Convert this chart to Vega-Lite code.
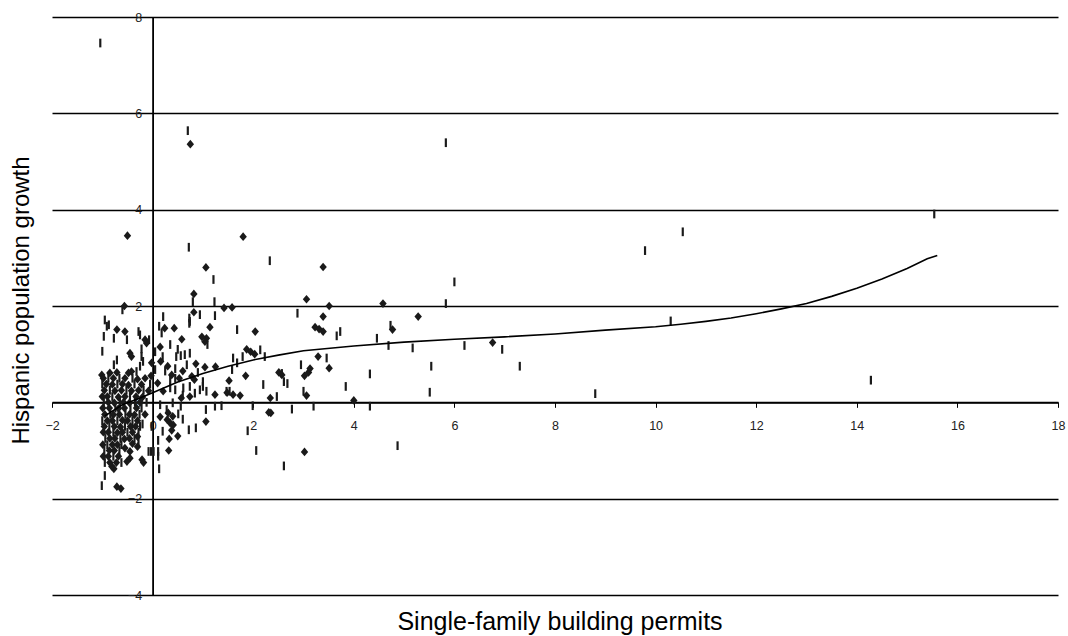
{
  "$schema": "https://vega.github.io/schema/vega-lite/v6.json",
  "width": 1006,
  "height": 578,
  "autosize": {"type": "none"},
  "padding": {"left": 52, "top": 17, "right": 10, "bottom": 41},
  "background": "white",
  "config": {"view": {"stroke": null}, "font": "Liberation Sans"},
  "datasets": {
    "pts": [
      {"x":-1.04,"y":7.46,"s":"t"},{"x":0.70,"y":5.64,"s":"t"},{"x":0.75,"y":5.36,"s":"d"},{"x":5.83,"y":5.39,"s":"t"},
      {"x":15.54,"y":3.91,"s":"t"},{"x":10.54,"y":3.54,"s":"t"},{"x":9.79,"y":3.15,"s":"t"},{"x":-0.5,"y":3.46,"s":"d"},
      {"x":1.8,"y":3.44,"s":"d"},{"x":0.72,"y":3.22,"s":"t"},{"x":2.33,"y":2.94,"s":"t"},{"x":1.06,"y":2.8,"s":"d"},
      {"x":1.21,"y":2.55,"s":"t"},{"x":3.39,"y":2.81,"s":"d"},{"x":6.0,"y":2.5,"s":"t"},{"x":5.83,"y":2.05,"s":"t"},
      {"x":0.82,"y":2.25,"s":"d"},{"x":0.8,"y":2.09,"s":"t"},{"x":1.23,"y":2.09,"s":"t"},{"x":4.58,"y":2.05,"s":"d"},
      {"x":3.06,"y":2.14,"s":"d"},{"x":3.51,"y":2.0,"s":"d"},{"x":5.28,"y":1.78,"s":"d"},{"x":2.88,"y":1.85,"s":"t"},
      {"x":3.39,"y":1.78,"s":"d"},{"x":3.23,"y":1.56,"s":"d"},{"x":3.31,"y":1.52,"s":"d"},{"x":3.39,"y":1.47,"s":"d"},
      {"x":3.66,"y":1.38,"s":"t"},{"x":3.73,"y":1.47,"s":"t"},{"x":4.77,"y":1.51,"s":"d"},{"x":4.73,"y":1.6,"s":"t"},
      {"x":4.46,"y":1.33,"s":"t"},{"x":4.69,"y":1.18,"s":"t"},{"x":5.17,"y":1.13,"s":"t"},{"x":6.2,"y":1.18,"s":"t"},
      {"x":6.76,"y":1.24,"s":"d"},{"x":6.95,"y":1.1,"s":"t"},{"x":7.3,"y":0.75,"s":"t"},{"x":8.8,"y":0.18,"s":"t"},
      {"x":10.3,"y":1.69,"s":"t"},{"x":14.28,"y":0.46,"s":"t"},{"x":5.54,"y":0.75,"s":"t"},{"x":5.51,"y":0.21,"s":"t"},
      {"x":4.32,"y":0.59,"s":"t"},{"x":3.84,"y":0.33,"s":"t"},{"x":4.0,"y":0.04,"s":"d"},{"x":4.32,"y":-0.08,"s":"t"},
      {"x":4.87,"y":-0.9,"s":"t"},{"x":3.02,"y":-1.03,"s":"d"},{"x":2.06,"y":-1.0,"s":"t"},{"x":2.61,"y":-1.32,"s":"t"},
      {"x":1.89,"y":-0.59,"s":"t"},{"x":2.35,"y":-0.22,"s":"d"},{"x":1.06,"y":-0.4,"s":"d"},{"x":3.2,"y":-0.08,"s":"t"},
      {"x":2.77,"y":-0.14,"s":"t"},{"x":1.99,"y":-0.07,"s":"t"},{"x":1.37,"y":-0.07,"s":"t"},{"x":1.24,"y":-0.08,"s":"t"},
      {"x":1.06,"y":-0.15,"s":"t"},{"x":1.24,"y":0.16,"s":"d"},{"x":1.6,"y":0.16,"s":"d"},{"x":1.74,"y":0.14,"s":"d"},
      {"x":2.34,"y":0.09,"s":"d"},{"x":2.47,"y":0.12,"s":"t"},{"x":1.47,"y":0.23,"s":"t"},{"x":1.07,"y":0.23,"s":"t"},
      {"x":3.06,"y":0.14,"s":"d"},{"x":3.0,"y":0.23,"s":"t"},{"x":3.02,"y":0.55,"s":"d"},{"x":3.1,"y":0.62,"s":"d"},
      {"x":3.13,"y":0.7,"s":"d"},{"x":2.95,"y":0.78,"s":"t"},{"x":2.51,"y":0.62,"s":"d"},{"x":2.57,"y":0.57,"s":"d"},
      {"x":2.61,"y":0.43,"s":"t"},{"x":2.68,"y":0.39,"s":"t"},{"x":2.2,"y":0.37,"s":"t"},{"x":1.85,"y":0.55,"s":"d"},
      {"x":1.52,"y":0.45,"s":"d"},{"x":1.58,"y":0.68,"s":"t"},{"x":1.04,"y":0.73,"s":"d"},{"x":1.25,"y":0.74,"s":"d"},
      {"x":3.29,"y":0.95,"s":"d"},{"x":3.51,"y":0.71,"s":"d"},{"x":3.46,"y":0.92,"s":"t"},{"x":1.87,"y":1.1,"s":"d"},
      {"x":1.95,"y":1.05,"s":"d"},{"x":2.03,"y":1.0,"s":"d"},{"x":2.14,"y":1.09,"s":"t"},{"x":2.23,"y":0.95,"s":"t"},
      {"x":1.79,"y":0.95,"s":"t"},{"x":1.6,"y":0.92,"s":"t"},{"x":1.14,"y":1.56,"s":"d"},{"x":1.68,"y":1.51,"s":"t"},
      {"x":2.04,"y":1.47,"s":"d"},{"x":1.24,"y":1.8,"s":"t"},{"x":1.42,"y":1.96,"s":"d"},{"x":1.58,"y":1.97,"s":"d"},
      {"x":1.07,"y":1.33,"s":"d"},{"x":0.98,"y":1.36,"s":"d"},{"x":1.04,"y":1.26,"s":"d"},{"x":1.09,"y":1.2,"s":"t"},
      {"x":1.0,"y":0.43,"s":"t"},{"x":1.0,"y":0.33,"s":"t"},{"x":-0.56,"y":2.0,"s":"d"},{"x":-0.6,"y":1.92,"s":"t"},
      {"x":0.82,"y":1.87,"s":"d"},{"x":0.74,"y":1.68,"s":"t"},{"x":0.94,"y":1.82,"s":"t"},{"x":0.21,"y":1.78,"s":"t"},
      {"x":-0.95,"y":1.71,"s":"t"},{"x":-0.91,"y":1.58,"s":"t"},{"x":-0.87,"y":1.61,"s":"t"},{"x":-0.97,"y":1.37,"s":"t"},
      {"x":-1.0,"y":1.06,"s":"t"},{"x":-0.71,"y":1.51,"s":"d"},{"x":-0.55,"y":1.47,"s":"d"},{"x":-0.77,"y":1.33,"s":"t"},
      {"x":-0.51,"y":1.3,"s":"t"},{"x":-0.28,"y":1.47,"s":"t"},{"x":-0.25,"y":1.4,"s":"t"},{"x":-0.15,"y":1.3,"s":"d"},
      {"x":-0.12,"y":1.23,"s":"d"},{"x":-0.07,"y":1.3,"s":"t"},{"x":-0.22,"y":1.11,"s":"t"},{"x":0.13,"y":1.58,"s":"t"},
      {"x":0.18,"y":1.44,"s":"t"},{"x":0.24,"y":1.54,"s":"d"},{"x":0.43,"y":1.54,"s":"d"},{"x":0.58,"y":1.31,"s":"d"},
      {"x":0.73,"y":1.75,"s":"t"},{"x":0.73,"y":1.64,"s":"t"},{"x":-0.45,"y":1.02,"s":"d"},{"x":-0.42,"y":0.95,"s":"d"},
      {"x":-0.71,"y":0.88,"s":"t"},{"x":-0.77,"y":0.78,"s":"t"},{"x":-0.22,"y":0.95,"s":"t"},{"x":-0.19,"y":0.85,"s":"t"},
      {"x":-0.02,"y":0.82,"s":"d"},{"x":0.16,"y":0.85,"s":"d"},{"x":0.47,"y":0.95,"s":"t"},{"x":0.56,"y":0.97,"s":"t"},
      {"x":0.64,"y":0.99,"s":"t"},{"x":0.74,"y":1.02,"s":"t"},{"x":0.86,"y":0.8,"s":"d"},{"x":1.68,"y":0.82,"s":"t"},
      {"x":2.57,"y":0.6,"s":"t"},{"x":0.38,"y":0.57,"s":"d"},{"x":0.53,"y":0.5,"s":"d"},{"x":0.35,"y":0.47,"s":"t"},
      {"x":0.45,"y":0.5,"s":"t"},{"x":-0.03,"y":0.55,"s":"d"},{"x":-1.01,"y":0.57,"s":"d"},{"x":-0.85,"y":0.61,"s":"d"},
      {"x":-0.71,"y":0.62,"s":"d"},{"x":-0.48,"y":0.61,"s":"d"},{"x":-0.42,"y":0.64,"s":"d"},{"x":-0.32,"y":0.64,"s":"t"},
      {"x":-0.25,"y":0.75,"s":"t"},{"x":1.48,"y":0.2,"s":"d"},{"x":1.53,"y":0.23,"s":"t"},{"x":0.83,"y":0.47,"s":"d"},
      {"x":0.78,"y":0.54,"s":"d"},
      {"x":0.25,"y":0.65,"s":"t"},{"x":0.3,"y":0.75,"s":"d"},{"x":0.45,"y":0.7,"s":"t"},{"x":0.6,"y":0.65,"s":"d"},
      {"x":0.68,"y":0.78,"s":"t"},{"x":0.9,"y":0.62,"s":"t"},{"x":0.2,"y":0.95,"s":"t"},{"x":0.05,"y":0.68,"s":"t"},
      {"x":0.1,"y":0.4,"s":"d"},{"x":0.6,"y":0.15,"s":"t"},{"x":0.05,"y":1.05,"s":"t"},{"x":0.15,"y":1.15,"s":"d"},
      {"x":0.35,"y":1.2,"s":"t"},{"x":0.5,"y":1.1,"s":"t"},{"x":0.2,"y":-0.6,"s":"t"},{"x":0.5,"y":-0.7,"s":"d"},
      {"x":0.6,"y":-0.35,"s":"t"},{"x":0.15,"y":-0.3,"s":"d"},
      {"x":-0.71,"y":-1.75,"s":"d"},{"x":-0.63,"y":-1.79,"s":"d"},{"x":-1.01,"y":-1.73,"s":"t"},{"x":-0.95,"y":-1.52,"s":"t"},
      {"x":0.13,"y":-1.38,"s":"t"},{"x":-0.77,"y":-1.38,"s":"d"},{"x":-0.81,"y":-1.33,"s":"d"},{"x":-0.18,"y":-1.25,"s":"d"},
      {"x":-0.21,"y":-1.19,"s":"d"},{"x":-0.03,"y":-1.02,"s":"t"},{"x":0.02,"y":-1.02,"s":"t"},{"x":-0.08,"y":-1.02,"s":"t"},
      {"x":0.11,"y":-1.02,"s":"t"},{"x":0.11,"y":-1.12,"s":"t"},{"x":0.32,"y":-1.0,"s":"d"},{"x":0.33,"y":-0.76,"s":"d"},
      {"x":0.11,"y":-0.79,"s":"t"},{"x":-0.3,"y":-0.92,"s":"d"},{"x":-0.45,"y":-1.02,"s":"d"},{"x":-0.55,"y":-0.95,"s":"d"},
      {"x":-0.51,"y":-1.23,"s":"d"},{"x":-0.45,"y":-1.16,"s":"d"},{"x":-0.02,"y":-0.5,"s":"t"},{"x":0.72,"y":-0.57,"s":"t"},
      {"x":0.86,"y":-0.53,"s":"t"},{"x":0.15,"y":-0.05,"s":"t"},{"x":0.28,"y":-0.15,"s":"t"},{"x":0.31,"y":-0.22,"s":"d"},
      {"x":0.40,"y":-0.29,"s":"d"},{"x":0.35,"y":-0.43,"s":"d"},{"x":0.41,"y":-0.47,"s":"d"},{"x":0.38,"y":-0.58,"s":"d"},
      {"x":0.29,"y":-0.36,"s":"d"},{"x":0.51,"y":-0.24,"s":"t"},{"x":0.56,"y":-0.08,"s":"t"},{"x":0.40,"y":-0.01,"s":"t"},
      {"x":0.57,"y":0.09,"s":"d"},{"x":0.74,"y":0.12,"s":"d"},{"x":0.21,"y":0.23,"s":"d"},{"x":0.35,"y":0.3,"s":"t"},
      {"x":0.45,"y":0.26,"s":"t"},{"x":0.61,"y":0.3,"s":"t"},{"x":0.74,"y":0.33,"s":"t"},{"x":0.84,"y":0.19,"s":"t"},
      {"x":0.94,"y":0.26,"s":"t"},{"x":2.31,"y":-0.21,"s":"d"},{"x":-0.3,"y":-0.71,"s":"d"},{"x":-0.28,"y":-0.82,"s":"t"},
      {"x":-0.25,"y":-0.5,"s":"t"},{"x":-0.2,"y":-0.45,"s":"t"},
      {"x":-0.98,"y":0.5,"s":"d"},{"x":-0.88,"y":0.5,"s":"t"},{"x":-0.78,"y":0.5,"s":"d"},{"x":-0.66,"y":0.5,"s":"t"},
      {"x":-0.55,"y":0.5,"s":"d"},{"x":-0.4,"y":0.5,"s":"t"},{"x":-0.3,"y":0.48,"s":"d"},{"x":-0.15,"y":0.5,"s":"d"},
      {"x":-1.0,"y":0.38,"s":"t"},{"x":-0.92,"y":0.38,"s":"d"},{"x":-0.8,"y":0.37,"s":"d"},{"x":-0.7,"y":0.38,"s":"t"},
      {"x":-0.6,"y":0.38,"s":"d"},{"x":-0.48,"y":0.36,"s":"d"},{"x":-0.36,"y":0.38,"s":"t"},{"x":-0.22,"y":0.37,"s":"d"},
      {"x":-0.05,"y":0.38,"s":"t"},{"x":-0.96,"y":0.25,"s":"d"},{"x":-0.85,"y":0.25,"s":"t"},{"x":-0.75,"y":0.24,"s":"d"},
      {"x":-0.62,"y":0.25,"s":"d"},{"x":-0.52,"y":0.25,"s":"t"},{"x":-0.42,"y":0.24,"s":"d"},{"x":-0.28,"y":0.25,"s":"d"},
      {"x":-0.18,"y":0.25,"s":"t"},{"x":-0.08,"y":0.24,"s":"d"},{"x":-1.0,"y":0.12,"s":"d"},{"x":-0.9,"y":0.12,"s":"d"},
      {"x":-0.8,"y":0.12,"s":"t"},{"x":-0.68,"y":0.11,"s":"d"},{"x":-0.55,"y":0.12,"s":"d"},{"x":-0.45,"y":0.12,"s":"t"},
      {"x":-0.33,"y":0.12,"s":"d"},{"x":-0.2,"y":0.11,"s":"d"},{"x":-0.97,"y":0.0,"s":"t"},{"x":-0.88,"y":0.0,"s":"d"},
      {"x":-0.76,"y":-0.01,"s":"d"},{"x":-0.65,"y":0.0,"s":"t"},{"x":-0.58,"y":0.0,"s":"d"},{"x":-0.46,"y":-0.01,"s":"d"},
      {"x":-0.35,"y":0.0,"s":"t"},{"x":-0.25,"y":0.0,"s":"d"},{"x":-0.12,"y":0.0,"s":"t"},{"x":-0.99,"y":-0.12,"s":"d"},
      {"x":-0.86,"y":-0.12,"s":"d"},{"x":-0.74,"y":-0.12,"s":"t"},{"x":-0.68,"y":-0.13,"s":"d"},{"x":-0.56,"y":-0.12,"s":"d"},
      {"x":-0.44,"y":-0.12,"s":"t"},{"x":-0.32,"y":-0.12,"s":"d"},{"x":-0.22,"y":-0.12,"s":"t"},{"x":-0.95,"y":-0.25,"s":"d"},
      {"x":-0.84,"y":-0.25,"s":"t"},{"x":-0.78,"y":-0.26,"s":"d"},{"x":-0.66,"y":-0.25,"s":"d"},{"x":-0.54,"y":-0.25,"s":"t"},
      {"x":-0.46,"y":-0.25,"s":"d"},{"x":-0.36,"y":-0.26,"s":"d"},{"x":-0.26,"y":-0.25,"s":"t"},{"x":-0.15,"y":-0.25,"s":"d"},
      {"x":-1.0,"y":-0.38,"s":"t"},{"x":-0.9,"y":-0.38,"s":"d"},{"x":-0.8,"y":-0.38,"s":"d"},{"x":-0.7,"y":-0.38,"s":"t"},
      {"x":-0.6,"y":-0.37,"s":"d"},{"x":-0.5,"y":-0.38,"s":"d"},{"x":-0.4,"y":-0.38,"s":"t"},{"x":-0.3,"y":-0.38,"s":"d"},
      {"x":-0.96,"y":-0.5,"s":"d"},{"x":-0.86,"y":-0.5,"s":"t"},{"x":-0.76,"y":-0.5,"s":"d"},{"x":-0.64,"y":-0.51,"s":"d"},
      {"x":-0.55,"y":-0.5,"s":"t"},{"x":-0.44,"y":-0.5,"s":"d"},{"x":-0.34,"y":-0.5,"s":"d"},{"x":-0.98,"y":-0.62,"s":"d"},
      {"x":-0.88,"y":-0.62,"s":"d"},{"x":-0.78,"y":-0.62,"s":"t"},{"x":-0.7,"y":-0.63,"s":"d"},{"x":-0.6,"y":-0.62,"s":"d"},
      {"x":-0.5,"y":-0.62,"s":"t"},{"x":-0.4,"y":-0.62,"s":"d"},{"x":-0.28,"y":-0.62,"s":"t"},{"x":-0.94,"y":-0.75,"s":"t"},
      {"x":-0.85,"y":-0.75,"s":"d"},{"x":-0.75,"y":-0.75,"s":"d"},{"x":-0.64,"y":-0.75,"s":"t"},{"x":-0.56,"y":-0.76,"s":"d"},
      {"x":-0.46,"y":-0.75,"s":"d"},{"x":-0.36,"y":-0.75,"s":"t"},{"x":-0.99,"y":-0.88,"s":"d"},{"x":-0.9,"y":-0.88,"s":"t"},
      {"x":-0.8,"y":-0.88,"s":"d"},{"x":-0.7,"y":-0.88,"s":"d"},{"x":-0.62,"y":-0.88,"s":"t"},{"x":-0.4,"y":-0.86,"s":"d"},
      {"x":-0.96,"y":-1.0,"s":"t"},{"x":-0.86,"y":-1.0,"s":"d"},{"x":-0.76,"y":-1.0,"s":"d"},{"x":-0.66,"y":-1.0,"s":"t"},
      {"x":-0.98,"y":-1.12,"s":"d"},{"x":-0.88,"y":-1.12,"s":"d"},{"x":-0.78,"y":-1.12,"s":"t"},{"x":-0.68,"y":-1.12,"s":"d"},
      {"x":-0.95,"y":-1.25,"s":"t"},{"x":-0.85,"y":-1.25,"s":"d"},{"x":-0.72,"y":-1.25,"s":"d"},{"x":-0.62,"y":-1.25,"s":"t"}
    ],
    "fit": [
      {"x":-0.95,"y":-0.28},{"x":-0.6,"y":-0.05},{"x":-0.3,"y":0.07},{"x":0.0,"y":0.2},{"x":0.5,"y":0.42},
      {"x":1.0,"y":0.6},{"x":1.5,"y":0.75},{"x":2.0,"y":0.88},{"x":2.5,"y":0.98},{"x":3.0,"y":1.07},
      {"x":4.0,"y":1.17},{"x":5.0,"y":1.25},{"x":6.0,"y":1.31},{"x":7.0,"y":1.36},{"x":8.0,"y":1.42},
      {"x":9.0,"y":1.5},{"x":10.0,"y":1.57},{"x":10.5,"y":1.62},{"x":11.0,"y":1.68},{"x":11.5,"y":1.75},
      {"x":12.0,"y":1.84},{"x":12.5,"y":1.94},{"x":13.0,"y":2.05},{"x":13.5,"y":2.2},{"x":14.0,"y":2.37},
      {"x":14.5,"y":2.56},{"x":15.0,"y":2.78},{"x":15.4,"y":2.98},{"x":15.6,"y":3.05}
    ]
  },
  "layer": [
    {
      "data": {"name": "pts"},
      "mark": {"type": "point", "filled": true, "size": 76, "color": "#1a1a1a", "opacity": 1},
      "encoding": {
        "x": {
          "field": "x", "type": "quantitative",
          "scale": {"domain": [-2, 18], "nice": false, "zero": false},
          "axis": {
            "title": "Single-family building permits",
            "values": [-2, 0, 2, 4, 6, 8, 10, 12, 14, 16, 18],
            "offset": -192.67,
            "grid": false,
            "domainColor": "#000", "domainWidth": 1.8,
            "tickColor": "#000", "tickSize": 5, "tickWidth": 1,
            "labelFontSize": 12.5, "labelColor": "#222", "labelPadding": 12, "labelFlush": false,
            "labelFont": "Liberation Sans",
            "titleFont": "Liberation Sans", "titleFontSize": 25, "titleFontWeight": "normal", "titleColor": "#000",
            "titleX": 507.5, "titleY": 226.7, "titleBaseline": "alphabetic"
          }
        },
        "y": {
          "field": "y", "type": "quantitative",
          "scale": {"domain": [-4, 8], "nice": false, "zero": false},
          "axis": {
            "title": "Hispanic population growth",
            "values": [-4, -2, 0, 2, 4, 6, 8],
            "offset": -100.6,
            "grid": true, "gridColor": "#000", "gridWidth": 1.6, "gridOpacity": 1,
            "domainColor": "#000", "domainWidth": 1.8,
            "ticks": false,
            "labelFontSize": 12.5, "labelColor": "#222", "labelPadding": 11, "labelFlush": false,
            "labelFont": "Liberation Sans",
            "titleFont": "Liberation Sans", "titleFontSize": 24, "titleFontWeight": "normal", "titleColor": "#000",
            "titleX": -124.3, "titleY": 283, "titleBaseline": "alphabetic", "titleAngle": -90
          }
        },
        "shape": {
          "field": "s", "type": "nominal",
          "scale": {"domain": ["d", "t"], "range": ["M0,-1L0.85,0L0,1L-0.85,0Z", "M-0.25,-1H0.25V1H-0.25Z"]},
          "legend": null
        }
      }
    },
    {
      "data": {"name": "fit"},
      "mark": {"type": "line", "color": "#000", "strokeWidth": 1.6},
      "encoding": {
        "x": {"field": "x", "type": "quantitative"},
        "y": {"field": "y", "type": "quantitative"}
      }
    }
  ]
}
